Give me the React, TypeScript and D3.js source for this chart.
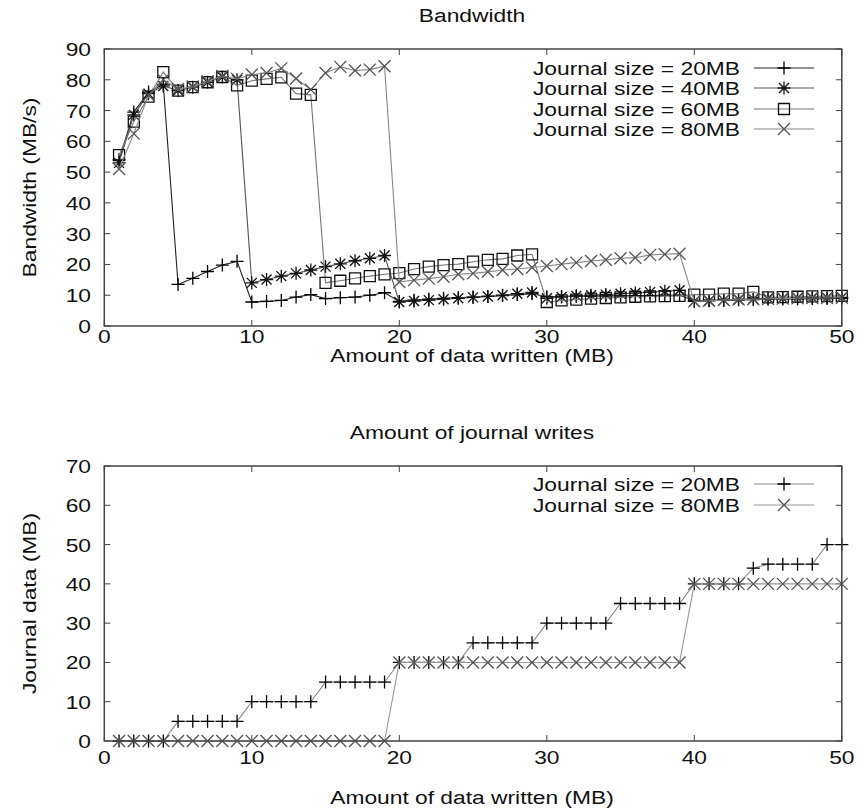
import { useEffect, useRef } from "react";
import * as d3 from "d3";

// x axis: amount of data written (MB)
const dataWritten = [
  1, 2, 3, 4, 5, 6, 7, 8, 9, 10, 11, 12, 13, 14, 15, 16, 17, 18, 19, 20, 21, 22, 23, 24, 25,
  26, 27, 28, 29, 30, 31, 32, 33, 34, 35, 36, 37, 38, 39, 40, 41, 42, 43, 44, 45, 46, 47, 48, 49, 50,
];

// bandwidth (MB/s) per journal size
const bw20 = [
  54, 69.5, 76, 78.5, 13.5, 15.5, 17.7, 19.8, 21, 7.8, 8, 8.3, 9.4, 10.2, 8.9, 9.2, 9.4, 10, 10.8, 8,
  8.4, 8.7, 9, 9.2, 9.4, 9.6, 9.9, 10.2, 10.5, 9.5, 9.6, 9.7, 9.7, 9.8, 9.8, 9.9, 9.9, 10, 10, 8.2,
  8.3, 8.4, 8.5, 8.6, 8.7, 8.8, 8.8, 8.9, 8.9, 9,
];
const bw40 = [
  53, 68.6, 75.5, 78, 76.5, 77.6, 79.2, 80.9, 80, 14, 15.1, 16.2, 17.1, 18.2, 19.3, 20.2, 21.2, 22, 22.9, 7.8,
  8.1, 8.4, 8.7, 9, 9.3, 9.6, 10, 10.5, 10.9, 9, 9.4, 9.8, 10, 10.2, 10.5, 10.7, 11, 11.3, 11.6, 8,
  8.2, 8.4, 8.6, 8.8, 9, 9, 9.1, 9.2, 9.2, 9.3,
];
const bw60 = [
  55.5, 66.4, 74.5, 82.5, 76.5, 77.6, 79.2, 80.9, 78.2, 79.7, 80.3, 80.8, 75.5, 75.1, 14, 14.7, 15.5, 16.2, 16.8, 17.2,
  18.5, 19.3, 19.8, 20.1, 20.9, 21.5, 21.8, 22.9, 23.3, 7.8, 8.3, 8.6, 8.9, 9.1, 9.3, 9.5, 9.6, 9.7, 9.8, 10.2,
  10.2, 10.5, 10.5, 11.1, 9.3, 9.4, 9.5, 9.6, 9.7, 9.8,
];
const bw80 = [
  51, 62.5, 75, 80, 77, 77.8, 79.5, 81.2, 80.3, 81.7, 82.2, 83.7, 80.4, 76.8, 82.2, 84.2, 83, 83.3, 84.4, 14.3,
  14.9, 15.4, 16, 16.8, 17.1, 17.6, 18.2, 18.5, 19, 19.5, 20.1, 20.6, 21.1, 21.5, 22, 22.2, 23.1, 23.3, 23.5, 8,
  8.2, 8.4, 8.6, 8.7, 8.8, 8.9, 9, 9.1, 9.1, 9.2,
];

// journal data written (MB)
const jw20 = [
  0, 0, 0, 0, 5, 5, 5, 5, 5, 10, 10, 10, 10, 10, 15, 15, 15, 15, 15, 20,
  20, 20, 20, 20, 25, 25, 25, 25, 25, 30, 30, 30, 30, 30, 35, 35, 35, 35, 35, 40,
  40, 40, 40, 44, 45, 45, 45, 45, 50, 50,
];
const jw80 = [
  0, 0, 0, 0, 0, 0, 0, 0, 0, 0, 0, 0, 0, 0, 0, 0, 0, 0, 0, 20,
  20, 20, 20, 20, 20, 20, 20, 20, 20, 20, 20, 20, 20, 20, 20, 20, 20, 20, 20, 40,
  40, 40, 40, 40, 40, 40, 40, 40, 40, 40,
];

const xTicks = [0, 10, 20, 30, 40, 50];
const bwTicks = [0, 10, 20, 30, 40, 50, 60, 70, 80, 90];
const jwTicks = [0, 10, 20, 30, 40, 50, 60, 70];

const FONT = "'Liberation Sans', Arial, sans-serif";
const STRETCH = 1.2;

const markers = {
  plus: "M-6.5,0H6.5M0,-6.5V6.5",
  star: "M-6.5,0H6.5M0,-6.5V6.5M-5,-5L5,5M-5,5L5,-5",
  square: "M-5.5,-5.5H5.5V5.5H-5.5Z",
  cross: "M-6,-6L6,6M-6,6L6,-6",
};

function label(g, x, y, str, anchor = "middle", rotate = false) {
  return g
    .append("text")
    .attr("transform", `translate(${x},${y})${rotate ? " rotate(-90)" : ""} scale(${STRETCH},1)`)
    .attr("text-anchor", anchor)
    .attr("font-family", FONT)
    .attr("font-size", 19)
    .attr("fill", "#111")
    .text(str);
}

function drawPanel(svg, opt) {
  const { top, bottom, yMax, yTicks, title, yLabel, series, legendY, tickY, xLabelY, titleY } = opt;
  const left = 104.3;
  const right = 841.8;
  const x = d3.scaleLinear().domain([0, 50]).range([left, right]);
  const y = d3.scaleLinear().domain([0, yMax]).range([bottom, top]);
  const g = svg.append("g");

  // ticks (gnuplot style, inward and mirrored)
  const tk = 6;
  xTicks.forEach((t) => {
    g.append("line").attr("x1", x(t)).attr("x2", x(t)).attr("y1", bottom).attr("y2", bottom - tk).attr("stroke", "#444");
    g.append("line").attr("x1", x(t)).attr("x2", x(t)).attr("y1", top).attr("y2", top + tk).attr("stroke", "#444");
    label(g, x(t), tickY, String(t));
  });
  yTicks.forEach((t) => {
    g.append("line").attr("x1", left).attr("x2", left + tk).attr("y1", y(t)).attr("y2", y(t)).attr("stroke", "#444");
    g.append("line").attr("x1", right).attr("x2", right - tk).attr("y1", y(t)).attr("y2", y(t)).attr("stroke", "#444");
    label(g, 91, y(t) + 7, String(t), "end");
  });

  // series
  series.forEach((s) => {
    const pts = dataWritten.map((d, i) => [x(d), y(s.values[i])]);
    g.append("path")
      .attr("d", d3.line()(pts))
      .attr("fill", "none")
      .attr("stroke", s.line)
      .attr("stroke-width", 1.1);
    g.selectAll(null)
      .data(pts)
      .enter()
      .append("path")
      .attr("transform", (p) => `translate(${p[0]},${p[1]})`)
      .attr("d", markers[s.marker])
      .attr("fill", "none")
      .attr("stroke", s.color)
      .attr("stroke-width", 1.3);
  });

  // legend
  series.forEach((s, i) => {
    const ly = legendY[i];
    label(g, 740, ly + 7, s.name, "end");
    g.append("line").attr("x1", 754).attr("x2", 814).attr("y1", ly).attr("y2", ly).attr("stroke", s.line).attr("stroke-width", 1.1);
    g.append("path")
      .attr("transform", `translate(784,${ly})`)
      .attr("d", markers[s.marker])
      .attr("fill", "none")
      .attr("stroke", s.color)
      .attr("stroke-width", 1.3);
  });

  // frame
  g.append("rect")
    .attr("x", left)
    .attr("y", top)
    .attr("width", right - left)
    .attr("height", bottom - top)
    .attr("fill", "none")
    .attr("stroke", "#444")
    .attr("stroke-width", 1.5);

  label(g, 472, titleY, title);
  label(g, 472, xLabelY, "Amount of data written (MB)");
  label(g, 36, (top + bottom) / 2, yLabel, "middle", true);
}

export default function App() {
  const ref = useRef(null);

  useEffect(() => {
    const svg = d3.select(ref.current);
    svg.selectAll("*").remove();

    drawPanel(svg, {
      top: 49,
      bottom: 326,
      yMax: 90,
      yTicks: bwTicks,
      title: "Bandwidth",
      titleY: 22,
      tickY: 343,
      xLabelY: 362,
      yLabel: "Bandwidth (MB/s)",
      legendY: [68, 88, 109, 129],
      series: [
        { name: "Journal size = 20MB", values: bw20, marker: "plus", color: "#000", line: "#222" },
        { name: "Journal size = 40MB", values: bw40, marker: "star", color: "#111", line: "#555" },
        { name: "Journal size = 60MB", values: bw60, marker: "square", color: "#111", line: "#777" },
        { name: "Journal size = 80MB", values: bw80, marker: "cross", color: "#555", line: "#888" },
      ],
    });

    drawPanel(svg, {
      top: 466,
      bottom: 741,
      yMax: 70,
      yTicks: jwTicks,
      title: "Amount of journal writes",
      titleY: 439,
      tickY: 764,
      xLabelY: 804,
      yLabel: "Journal data (MB)",
      legendY: [484, 505],
      series: [
        { name: "Journal size = 20MB", values: jw20, marker: "plus", color: "#000", line: "#888" },
        { name: "Journal size = 80MB", values: jw80, marker: "cross", color: "#555", line: "#999" },
      ],
    });
  }, []);

  return (
    <svg
      ref={ref}
      width={858}
      height={810}
      style={{ position: "absolute", left: 0, top: 0, background: "#fff" }}
    />
  );
}
